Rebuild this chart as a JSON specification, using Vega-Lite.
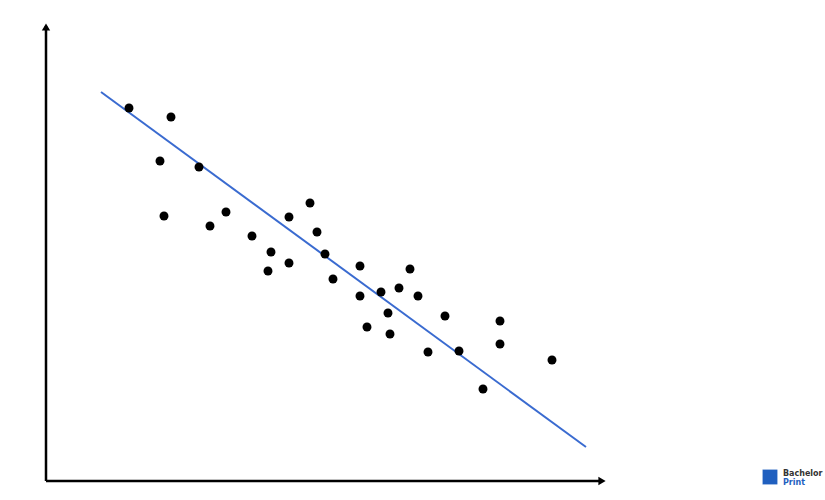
{
  "$schema": "https://vega.github.io/schema/vega-lite/v6.json",
  "width": 825,
  "height": 500,
  "autosize": {"type": "fit", "contains": "padding"},
  "padding": 0,
  "background": "white",
  "config": {"view": {"stroke": null}},
  "datasets": {
    "points": [
      {"x": 129, "y": 392}, {"x": 171, "y": 383}, {"x": 160, "y": 339}, {"x": 164, "y": 284},
      {"x": 199, "y": 333}, {"x": 210, "y": 274}, {"x": 226, "y": 288}, {"x": 252, "y": 264},
      {"x": 271, "y": 248}, {"x": 268, "y": 229}, {"x": 289, "y": 283}, {"x": 289, "y": 237},
      {"x": 310, "y": 297}, {"x": 317, "y": 268}, {"x": 325, "y": 246}, {"x": 333, "y": 221},
      {"x": 360, "y": 234}, {"x": 360, "y": 204}, {"x": 367, "y": 173}, {"x": 381, "y": 208},
      {"x": 388, "y": 187}, {"x": 390, "y": 166}, {"x": 399, "y": 212}, {"x": 410, "y": 231},
      {"x": 418, "y": 204}, {"x": 428, "y": 148}, {"x": 445, "y": 184}, {"x": 459, "y": 149},
      {"x": 483, "y": 111}, {"x": 500, "y": 179}, {"x": 500, "y": 156}, {"x": 552, "y": 140}
    ],
    "fit": [{"x": 101, "y": 408, "x2": 586, "y2": 53}],
    "axes": [
      {"x": 46, "y": 19, "x2": 46, "y2": 474},
      {"x": 46, "y": 19, "x2": 600, "y2": 19}
    ],
    "heads": [
      {"x": 46, "y": 473, "shape": "triangle-up"},
      {"x": 602, "y": 19, "shape": "triangle-right"}
    ],
    "logo": [
      {"x": 783, "y": 26, "label": "Bachelor", "c": "black"},
      {"x": 783, "y": 17, "label": "Print", "c": "blue"}
    ]
  },
  "layer": [
    {
      "data": {"name": "axes"},
      "mark": {"type": "rule", "color": "black", "strokeWidth": 2.5},
      "encoding": {
        "x": {"field": "x", "type": "quantitative", "scale": {"domain": [0, 825], "nice": false, "zero": false}, "axis": null},
        "y": {"field": "y", "type": "quantitative", "scale": {"domain": [0, 500], "nice": false, "zero": false}, "axis": null},
        "x2": {"field": "x2"},
        "y2": {"field": "y2"}
      }
    },
    {
      "data": {"name": "heads"},
      "mark": {"type": "point", "filled": true, "color": "black", "size": 70, "opacity": 1},
      "encoding": {
        "x": {"field": "x", "type": "quantitative"},
        "y": {"field": "y", "type": "quantitative"},
        "shape": {"field": "shape", "type": "nominal", "scale": null, "legend": null}
      }
    },
    {
      "data": {"name": "fit"},
      "mark": {"type": "rule", "color": "#3a6bd0", "strokeWidth": 2},
      "encoding": {
        "x": {"field": "x", "type": "quantitative"},
        "y": {"field": "y", "type": "quantitative"},
        "x2": {"field": "x2"},
        "y2": {"field": "y2"}
      }
    },
    {
      "data": {"name": "points"},
      "mark": {"type": "circle", "color": "black", "size": 80, "opacity": 1},
      "encoding": {
        "x": {"field": "x", "type": "quantitative"},
        "y": {"field": "y", "type": "quantitative"}
      }
    },
    {
      "data": {"values": [{"x": 770, "y": 23}]},
      "mark": {"type": "point", "shape": "square", "filled": true, "color": "#1f5fbf", "size": 220, "opacity": 1},
      "encoding": {
        "x": {"field": "x", "type": "quantitative"},
        "y": {"field": "y", "type": "quantitative"}
      }
    },
    {
      "data": {"name": "logo"},
      "mark": {"type": "text", "align": "left", "baseline": "middle", "fontSize": 8, "font": "DejaVu Sans", "fontWeight": "bold"},
      "encoding": {
        "x": {"field": "x", "type": "quantitative"},
        "y": {"field": "y", "type": "quantitative"},
        "text": {"field": "label"},
        "color": {"field": "c", "type": "nominal", "scale": {"domain": ["black", "blue"], "range": ["#333333", "#1f5fbf"]}, "legend": null}
      }
    }
  ]
}
